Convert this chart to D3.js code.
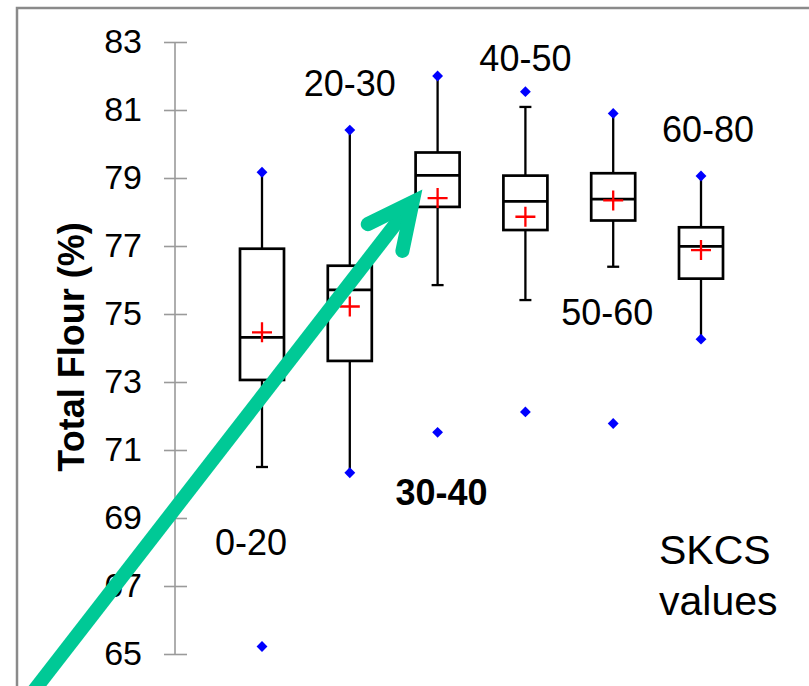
<!DOCTYPE html>
<html>
<head>
<meta charset="utf-8">
<script src="https://cdn.jsdelivr.net/npm/d3@7"></script>
<style>
  html, body { margin: 0; padding: 0; background: #fff; }
  svg { display: block; font-family: "Liberation Sans", Arial, sans-serif; }
</style>
</head>
<body>
<svg id="chart" width="809" height="686"></svg>
<script>
// SKCS hardness classes and the Total Flour (%) distribution of each
const categories  = ["0-20", "20-30", "30-40", "40-50", "50-60", "60-80"];
const minVals     = [65.22, 70.33, 71.52, 72.12, 71.78, 74.26];
const whiskerLow  = [70.50, 70.33, 75.85, 75.41, 76.39, 74.26];
const q1Vals      = [73.06, 73.62, 78.15, 77.47, 77.75, 76.04];
const medians     = [74.31, 75.71, 79.08, 78.31, 78.38, 76.99];
const q3Vals      = [76.92, 76.42, 79.75, 79.07, 79.14, 77.55];
const whiskerHigh = [79.17, 80.41, 82.00, 81.09, 80.90, 79.06];
const maxVals     = [79.17, 80.41, 82.00, 81.54, 80.90, 79.06];
const means       = [74.46, 75.22, 78.41, 77.86, 78.34, 76.88];
const yTicks      = [65, 67, 69, 71, 73, 75, 77, 79, 81, 83];

// where each class name sits: horizontal nudge (px) and baseline (axis units)
const labelSpots = [
  { dx: -11, v: 67.91, bold: false },
  { dx:   0, v: 81.41, bold: false },
  { dx:   4, v: 69.38, bold: true  },
  { dx:   0, v: 82.16, bold: false },
  { dx:  -6, v: 74.68, bold: false },
  { dx:   7, v: 80.07, bold: false }
];

const svg = d3.select("#chart");
const boxW = 44;

const y = d3.scaleLinear().domain([65, 83]).range([654, 42]);
const x = d3.scalePoint().domain(categories).range([262, 701]);

// outer frame
svg.append("path")
  .attr("d", "M17,700 V8 H812")
  .attr("fill", "none")
  .attr("stroke", "#8a8a8a")
  .attr("stroke-width", 2.5);

// y axis with ticks crossing the line
const axisG = svg.append("g")
  .attr("transform", "translate(175,0)")
  .call(d3.axisLeft(y).tickValues(yTicks).tickSize(11).tickPadding(22).tickFormat(d3.format("d")));
axisG.select(".domain").attr("stroke", "#9a9a9a").attr("stroke-width", 1.6).attr("d", `M0,${y(83)}V${y(65)}`);
axisG.selectAll(".tick line").attr("x1", -11).attr("x2", 12).attr("stroke", "#9a9a9a").attr("stroke-width", 1.6);
axisG.selectAll(".tick text")
  .attr("fill", "#000")
  .style("font-size", "34px")
  .style("font-family", "'Liberation Sans', Arial, sans-serif");

// y axis title
svg.append("text")
  .attr("transform", `translate(84,${(y(83) + y(65)) / 2 - 1}) rotate(-90)`)
  .attr("text-anchor", "middle")
  .style("font-size", "36px")
  .style("font-weight", "bold")
  .text("Total Flour (%)");

const rows = categories.map((c, i) => ({
  cat: c, min: minVals[i], wl: whiskerLow[i], q1: q1Vals[i], med: medians[i],
  q3: q3Vals[i], wh: whiskerHigh[i], max: maxVals[i], mean: means[i]
}));

const g = svg.append("g").attr("class", "boxes");
const box = g.selectAll("g.box").data(rows).join("g").attr("class", "box");

// whiskers
box.append("line")
  .attr("x1", d => x(d.cat)).attr("x2", d => x(d.cat))
  .attr("y1", d => y(d.q3)).attr("y2", d => y(d.wh))
  .attr("stroke", "#000").attr("stroke-width", 2.3);
box.append("line")
  .attr("x1", d => x(d.cat)).attr("x2", d => x(d.cat))
  .attr("y1", d => y(d.q1)).attr("y2", d => y(d.wl))
  .attr("stroke", "#000").attr("stroke-width", 2.3);

// whisker caps where the whisker stops short of the extreme value
box.filter(d => d.wh !== d.max).append("line")
  .attr("x1", d => x(d.cat) - 6).attr("x2", d => x(d.cat) + 6)
  .attr("y1", d => y(d.wh)).attr("y2", d => y(d.wh))
  .attr("stroke", "#000").attr("stroke-width", 2.3);
box.filter(d => d.wl !== d.min).append("line")
  .attr("x1", d => x(d.cat) - 6).attr("x2", d => x(d.cat) + 6)
  .attr("y1", d => y(d.wl)).attr("y2", d => y(d.wl))
  .attr("stroke", "#000").attr("stroke-width", 2.3);

// interquartile box
box.append("rect")
  .attr("x", d => x(d.cat) - boxW / 2)
  .attr("y", d => y(d.q3))
  .attr("width", boxW)
  .attr("height", d => y(d.q1) - y(d.q3))
  .attr("fill", "none")
  .attr("stroke", "#000").attr("stroke-width", 2.7);

// median
box.append("line")
  .attr("x1", d => x(d.cat) - boxW / 2).attr("x2", d => x(d.cat) + boxW / 2)
  .attr("y1", d => y(d.med)).attr("y2", d => y(d.med))
  .attr("stroke", "#000").attr("stroke-width", 2.7);

// mean marker
box.append("path")
  .attr("d", d => {
    const cx = x(d.cat), cy = y(d.mean);
    return `M${cx - 10},${cy}H${cx + 10}M${cx},${cy - 10}V${cy + 10}`;
  })
  .attr("stroke", "#ff0000").attr("stroke-width", 2.3).attr("fill", "none");

// minimum / maximum markers
const diamond = d3.symbol().type(d3.symbolDiamond2).size(75);
["min", "max"].forEach(k => {
  box.append("path")
    .attr("transform", d => `translate(${x(d.cat)},${y(d[k])})`)
    .attr("d", diamond)
    .attr("fill", "#0000ff");
});

// class names
svg.append("g").selectAll("text")
  .data(categories)
  .join("text")
  .attr("x", (c, i) => x(c) + labelSpots[i].dx)
  .attr("y", (c, i) => y(labelSpots[i].v))
  .attr("text-anchor", "middle")
  .style("font-size", "36px")
  .style("font-weight", (c, i) => labelSpots[i].bold ? "bold" : "normal")
  .text(c => c);

// legend caption
const cap = svg.append("text").attr("x", 659).style("font-size", "41px");
cap.append("tspan").attr("x", 659).attr("y", 564).text("SKCS");
cap.append("tspan").attr("x", 659).attr("y", 615).text("values");

// highlight arrow pointing at the 30-40 class
const tip = [x(categories[2]) - boxW / 2 - 3, y(means[2]) + 4];
const tail = [tip[0] - 386, tip[1] + 498];
const ang = Math.atan2(tail[1] - tip[1], tail[0] - tip[0]);
const armLen = 50, spread = 26 * Math.PI / 180;
const arm1 = [tip[0] + armLen * Math.cos(ang + spread), tip[1] + armLen * Math.sin(ang + spread)];
const arm2 = [tip[0] + armLen * Math.cos(ang - spread), tip[1] + armLen * Math.sin(ang - spread)];
const arrow = svg.append("g").attr("fill", "none").attr("stroke", "#00c996").attr("stroke-width", 14);
arrow.append("path")
  .attr("d", d3.line()([tail, tip]))
  .attr("stroke-linecap", "butt");
arrow.append("path")
  .attr("d", d3.line()([arm1, tip, arm2]))
  .attr("stroke-linecap", "round")
  .attr("stroke-linejoin", "miter");
</script>
</body>
</html>
